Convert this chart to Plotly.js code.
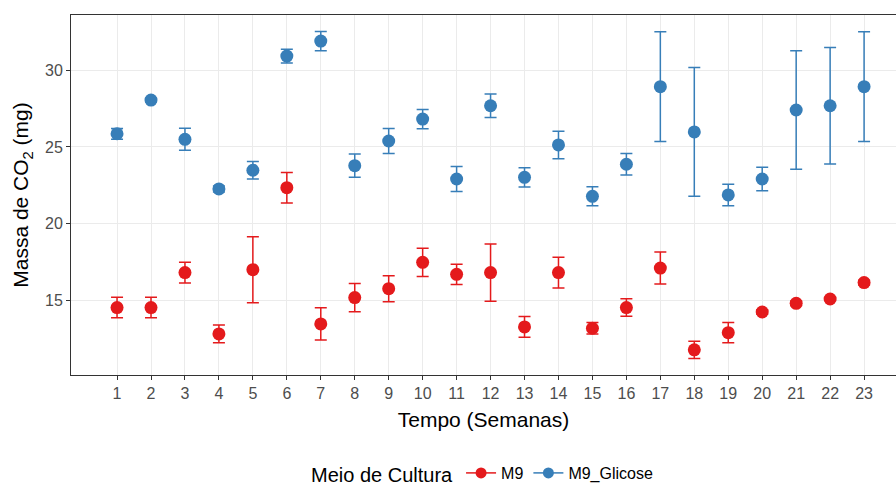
<!DOCTYPE html>
<html>
<head>
<meta charset="utf-8">
<script src="https://cdn.plot.ly/plotly-3.0.1.min.js"></script>
<style>html,body{margin:0;padding:0;background:#fff;}#chart{width:896px;height:489px;}</style>
</head>
<body>
<div id="chart"></div>
<script>
const weeks = [1,2,3,4,5,6,7,8,9,10,11,12,13,14,15,16,17,18,19,20,21,22,23];
const m9Mean = [14.52,14.52,16.80,12.80,16.99,22.34,13.45,15.17,15.75,17.47,16.69,16.80,13.26,16.80,13.17,14.52,17.10,11.76,12.88,14.23,14.80,15.08,16.15];
const m9Err  = [0.67,0.67,0.67,0.58,2.15,1.00,1.05,0.92,0.85,0.92,0.66,1.87,0.67,1.00,0.38,0.57,1.04,0.57,0.66,0.15,0.15,0.10,0.15];
const glcMean = [25.86,28.06,25.50,22.26,23.48,30.93,31.91,23.78,25.39,26.82,22.91,27.69,23.02,25.13,21.78,23.87,28.93,25.98,21.87,22.91,27.41,27.69,28.93];
const glcErr  = [0.35,0.12,0.72,0.20,0.57,0.45,0.63,0.76,0.82,0.63,0.82,0.76,0.63,0.90,0.62,0.70,3.58,4.20,0.70,0.77,3.87,3.80,3.58];
const seriesNames = ['M9', 'M9_Glicose'];
const tickLabels = weeks.map(String);

const red = '#E41A1C', blue = '#377EB8';
function trace(name, y, e, color) {
  return {
    type: 'scatter', mode: 'markers', name: name, showlegend: false,
    x: weeks, y: y,
    marker: {color: color, size: 13},
    error_y: {type: 'data', array: e, visible: true, color: color, thickness: 1.5, width: 6}
  };
}
function legendEntry(name, color) {
  return {
    type: 'scatter', mode: 'lines+markers', name: name,
    x: [null], y: [null],
    line: {color: color, width: 1.5},
    marker: {color: color, size: 11}
  };
}
const data = [
  trace(seriesNames[0], m9Mean, m9Err, red),
  trace(seriesNames[1], glcMean, glcErr, blue),
  legendEntry(seriesNames[0], red),
  legendEntry(seriesNames[1], blue)
];

const layout = {
  width: 896, height: 489,
  margin: {l: 71, r: 0, t: 15, b: 114, autoexpand: false},
  paper_bgcolor: '#ffffff', plot_bgcolor: '#ffffff',
  font: {family: 'Liberation Sans, Arial, sans-serif', color: '#000'},
  showlegend: true,
  xaxis: {
    range: [-0.356, 23.94],
    tickmode: 'array', tickvals: weeks, ticktext: tickLabels,
    tickfont: {size: 16, color: '#4d4d4d'},
    ticks: 'outside', ticklen: 4, tickcolor: '#333333',
    showgrid: true, gridcolor: '#ebebeb', gridwidth: 1,
    zeroline: false, automargin: false,
    showline: true, mirror: true, linecolor: '#333333', linewidth: 1,
    title: {text: 'Tempo (Semanas)', font: {size: 21, color: '#000'}, standoff: 11}
  },
  yaxis: {
    range: [10.12, 33.61],
    tickvals: [15, 20, 25, 30],
    tickfont: {size: 16, color: '#4d4d4d'},
    ticks: 'outside', ticklen: 4, tickcolor: '#333333',
    showgrid: true, gridcolor: '#ebebeb', gridwidth: 1,
    zeroline: false, automargin: false,
    showline: true, mirror: true, linecolor: '#333333', linewidth: 1,
    title: {text: 'Massa de CO<sub>2</sub> (mg)', font: {size: 21, color: '#000'}, standoff: 10}
  },
  legend: {
    orientation: 'h', x: 0.5, xanchor: 'center', y: -0.275, yanchor: 'middle',
    title: {text: 'Meio de Cultura', font: {size: 20, color: '#000'}, side: 'left'},
    font: {size: 16, color: '#000'},
    itemwidth: 30
  }
};
Plotly.newPlot('chart', data, layout, {staticPlot: true, displayModeBar: false});
</script>
</body>
</html>
